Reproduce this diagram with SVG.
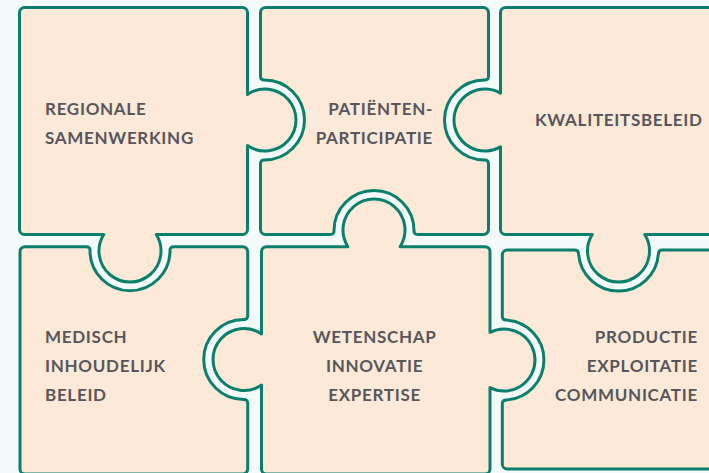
<svg xmlns="http://www.w3.org/2000/svg" width="709" height="473" viewBox="0 0 709 473">
  <style>
    .piece { fill: #FCE9D8; stroke: #0A7F6C; stroke-width: 3; stroke-linejoin: round; }
    .label { font-family: Lato, "Open Sans", "Liberation Sans", sans-serif; font-weight: 700; font-size: 17px; fill: #57575B; letter-spacing: 0.7px; }
    .end { text-anchor: end; }
    .mid { text-anchor: middle; }
  </style>
  <rect width="709" height="473" fill="#F4FAF9"/>

  <!-- top row -->
  <g id="regionale-samenwerking">
    <path class="piece" d="M24.5,7.5 H242.5 A5,5 0 0 1 247.5,12.5 V94.4 A31,31 0 1 1 247.5,145.6 V229.5 A5,5 0 0 1 242.5,234.5 H156.24 A31,31 0 1 1 103.76,234.5 H24.5 A5,5 0 0 1 19.5,229.5 V12.5 A5,5 0 0 1 24.5,7.5 Z"/>
    <text class="label" x="45" y="115">REGIONALE</text>
    <text class="label" x="45" y="144">SAMENWERKING</text>
  </g>

  <g id="patienten-participatie">
    <path class="piece" d="M265.5,7.5 H483.5 A5,5 0 0 1 488.5,12.5 V76.15 Q488.5,80.15 484.5,80 A40,40 0 1 0 484.5,160 Q488.5,159.85 488.5,163.85 V229.5 A5,5 0 0 1 483.5,234.5 H417.75 Q413.75,234.5 414,230.5 A40,40 0 1 0 334,230.5 Q334.25,234.5 330.25,234.5 H265.5 A5,5 0 0 1 260.5,229.5 V163.75 Q260.5,159.75 264.49,160 A40,40 0 1 0 264.49,80 Q260.5,80.25 260.5,76.25 V12.5 A5,5 0 0 1 265.5,7.5 Z"/>
    <text class="label end" x="433" y="115">PATIËNTEN-</text>
    <text class="label end" x="433" y="144">PARTICIPATIE</text>
  </g>

  <g id="kwaliteitsbeleid">
    <path class="piece" d="M505.5,7.5 H722 V234.5 H644.74 A31,31 0 1 1 592.26,234.5 H505.5 A5,5 0 0 1 500.5,229.5 V146.85 A31,31 0 1 1 500.5,93.15 V12.5 A5,5 0 0 1 505.5,7.5 Z"/>
    <text class="label" x="535" y="126">KWALITEITSBELEID</text>
  </g>

  <!-- bottom row -->
  <g id="medisch-inhoudelijk-beleid">
    <path class="piece" d="M20,251.7 A5,5 0 0 1 25,246.7 H86.23 Q90.23,246.7 90,250.69 A40,40 0 1 0 170,250.69 Q169.77,246.7 173.77,246.7 H242.7 A5,5 0 0 1 247.7,251.7 V315.67 Q247.7,319.67 243.7,319.5 A40,40 0 1 0 243.7,399.5 Q247.7,399.33 247.7,403.33 V469 A5,5 0 0 1 242.7,474 H25 A5,5 0 0 1 20,469 Z"/>
    <text class="label" x="45" y="343">MEDISCH</text>
    <text class="label" x="45" y="372">INHOUDELIJK</text>
    <text class="label" x="45" y="401">BELEID</text>
  </g>

  <g id="wetenschap-innovatie-expertise">
    <path class="piece" d="M266.5,246.7 H347.88 A31,31 0 1 1 400.12,246.7 H485 A5,5 0 0 1 490,251.7 V332.34 A31,31 0 1 1 490,387.66 V469 A5,5 0 0 1 485,474 H266.5 A5,5 0 0 1 261.5,469 V385.09 A31,31 0 1 1 261.5,333.91 V251.7 A5,5 0 0 1 266.5,246.7 Z"/>
    <text class="label mid" x="374.6" y="343">WETENSCHAP</text>
    <text class="label mid" x="374.6" y="372">INNOVATIE</text>
    <text class="label mid" x="374.6" y="401">EXPERTISE</text>
  </g>

  <g id="productie-exploitatie-communicatie">
    <path class="piece" d="M507.3,250 H574.51 Q578.51,250 578.6,254 A40,40 0 0 0 658.39,254 Q658.49,250 662.49,250 H722 V469 H507.3 A5,5 0 0 1 502.3,464 V403.96 Q502.3,399.96 506.3,399.93 A40,40 0 0 0 506.3,320.07 Q502.3,320.04 502.3,316.04 V255 A5,5 0 0 1 507.3,250 Z"/>
    <text class="label end" x="698" y="343">PRODUCTIE</text>
    <text class="label end" x="698" y="372">EXPLOITATIE</text>
    <text class="label end" x="698" y="401">COMMUNICATIE</text>
  </g>
</svg>
